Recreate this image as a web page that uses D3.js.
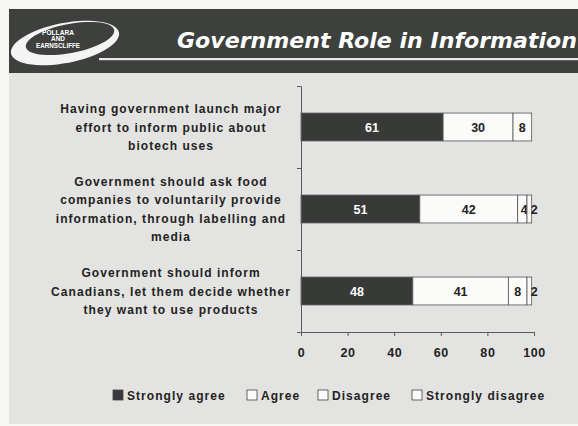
<!DOCTYPE html>
<html>
<head>
<meta charset="utf-8">
<script src="https://cdn.jsdelivr.net/npm/d3@7"></script>
<style>
  html, body { margin: 0; padding: 0; background: #f6f6f4; }
  svg { display: block; }
</style>
</head>
<body>
<svg id="chart" width="578" height="426"></svg>
<script>
// Survey statements (top to bottom)
const categories = [
  ["Having government launch major", "effort to inform public about", "biotech uses"],
  ["Government should ask food", "companies to voluntarily provide", "information, through labelling and", "media"],
  ["Government should inform", "Canadians, let them decide whether", "they want to use products"]
];
const seriesNames = ["Strongly agree", "Agree", "Disagree", "Strongly disagree"];
const stronglyAgree = [61, 51, 48];
const agree = [30, 42, 41];
const disagree = [8, 4, 8];
const stronglyDisagree = [0, 2, 2];
const xTicks = [0, 20, 40, 60, 80, 100];

const seriesValues = [stronglyAgree, agree, disagree, stronglyDisagree];
const fills = ["#383a38", "#fbfbfa", "#fbfbfa", "#fbfbfa"];
const labelColors = ["#ffffff", "#222222", "#222222", "#222222"];

const svg = d3.select("#chart");
const font = "'Liberation Sans', Arial, sans-serif";

// Slide panel
svg.append("rect").attr("x", 9).attr("y", 9).attr("width", 569).attr("height", 415)
  .attr("fill", "#e3e3e1");

// Header band
svg.append("rect").attr("x", 9).attr("y", 9).attr("width", 569).attr("height", 64)
  .attr("fill", "#3d403d");
svg.append("rect").attr("x", 99).attr("y", 58).attr("width", 479).attr("height", 2.2)
  .attr("fill", "#e8e8e8");

// Logo swoosh: ring that is thin at the top right and wide at the bottom left
function ellipsePath(cx, cy, rx, ry, rot) {
  const pts = d3.range(0, 361, 6).map(a => {
    const t = a * Math.PI / 180, r = rot * Math.PI / 180;
    const x = rx * Math.cos(t), y = ry * Math.sin(t);
    return [cx + x * Math.cos(r) - y * Math.sin(r), cy + x * Math.sin(r) + y * Math.cos(r)];
  });
  return "M" + pts.map(p => p.join(",")).join("L") + "Z";
}
svg.append("path")
  .attr("d", ellipsePath(65, 43, 55, 20, -11) + ellipsePath(70, 38.5, 45, 14.5, -11))
  .attr("fill", "#f4f4f4").attr("fill-rule", "evenodd");
const logo = svg.append("g").attr("font-family", font).attr("font-weight", "bold")
  .attr("font-size", 6.5).attr("fill", "#ffffff").attr("text-anchor", "middle");
[["POLLARA", 35, 32], ["AND", 41, 14], ["EARNSCLIFFE", 47.5, 44]].forEach(([t, y, w]) =>
  logo.append("text").attr("x", 58).attr("y", y)
    .attr("textLength", w).attr("lengthAdjust", "spacingAndGlyphs").text(t));

// Title
svg.append("text")
  .attr("x", 177).attr("y", 48)
  .attr("font-family", "'DejaVu Sans', Verdana, sans-serif")
  .attr("font-weight", "bold").attr("font-style", "italic")
  .attr("font-size", 21.5).attr("fill", "#ffffff")
  .attr("textLength", 400).attr("lengthAdjust", "spacingAndGlyphs")
  .text("Government Role in Information");

// Scales
const x = d3.scaleLinear().domain([0, 100]).range([301, 534]);
const y = d3.scaleBand().domain(d3.range(categories.length)).range([86, 332])
  .paddingInner(0.66).paddingOuter(0.33);

const stackData = categories.map((c, i) => {
  const row = { idx: i };
  seriesNames.forEach((s, k) => row[s] = seriesValues[k][i]);
  return row;
});
const stacked = d3.stack().keys(seriesNames)(stackData);

// Bars with value labels
stacked.forEach((layer, k) => {
  const segs = layer.filter(d => d[1] > d[0]);
  const g = svg.append("g");
  g.selectAll("rect").data(segs).join("rect")
    .attr("x", d => x(d[0])).attr("y", d => y(d.data.idx))
    .attr("width", d => x(d[1]) - x(d[0])).attr("height", y.bandwidth())
    .attr("fill", fills[k]).attr("stroke", "#555").attr("stroke-width", 0.8);
  g.selectAll("text").data(segs).join("text")
    .attr("x", d => x((d[0] + d[1]) / 2) + ((d[1] - d[0]) < 3 ? 5 : (d[1] - d[0]) < 5 ? 2 : 0))
    .attr("y", d => y(d.data.idx) + y.bandwidth() / 2 + 4.5)
    .attr("text-anchor", "middle")
    .attr("font-family", font).attr("font-weight", "bold").attr("font-size", 12.5)
    .attr("fill", labelColors[k])
    .text(d => d[1] - d[0]);
});

// Axes
const axisColor = "#5a5a5a";
const xAxis = svg.append("g").attr("transform", "translate(0,332)")
  .call(d3.axisBottom(x).tickValues(xTicks).tickSize(4).tickPadding(12));
xAxis.select(".domain").attr("stroke", axisColor);
xAxis.selectAll(".tick line").attr("stroke", axisColor);
xAxis.selectAll(".tick text").attr("font-family", font).attr("font-weight", "bold")
  .attr("font-size", 12.5).attr("fill", "#222").attr("letter-spacing", 0.6);

// Vertical axis with ticks on band boundaries
const yEdge = d3.scaleLinear().domain([0, categories.length]).range([86, 332]);
const yAxis = svg.append("g").attr("transform", "translate(301,0)")
  .call(d3.axisLeft(yEdge).ticks(3).tickSize(4).tickFormat(""));
yAxis.select(".domain").attr("stroke", axisColor);
yAxis.selectAll(".tick line").attr("stroke", axisColor);

// Category labels
const lineH = 18.3;
categories.forEach((lines, i) => {
  const cy = y(i) + y.bandwidth() / 2;
  const top = cy - (lines.length - 1) * lineH / 2;
  lines.forEach((t, j) => {
    svg.append("text")
      .attr("x", 171).attr("y", top + j * lineH + 4.5)
      .attr("text-anchor", "middle")
      .attr("font-family", font).attr("font-weight", "bold").attr("font-size", 12)
      .attr("letter-spacing", 1.05).attr("fill", "#222")
      .text(t);
  });
});

// Legend
const legendX = [113, 247, 318, 412];
const legend = svg.append("g");
seriesNames.forEach((s, k) => {
  legend.append("rect").attr("x", legendX[k]).attr("y", 390).attr("width", 10).attr("height", 10)
    .attr("fill", k === 0 ? "#383a38" : "#fbfbfa").attr("stroke", "#444").attr("stroke-width", 0.8);
  legend.append("text").attr("x", legendX[k] + 14).attr("y", 399.5)
    .attr("font-family", font).attr("font-weight", "bold").attr("font-size", 12)
    .attr("letter-spacing", 1.05).attr("fill", "#222")
    .text(s);
});
</script>
</body>
</html>
